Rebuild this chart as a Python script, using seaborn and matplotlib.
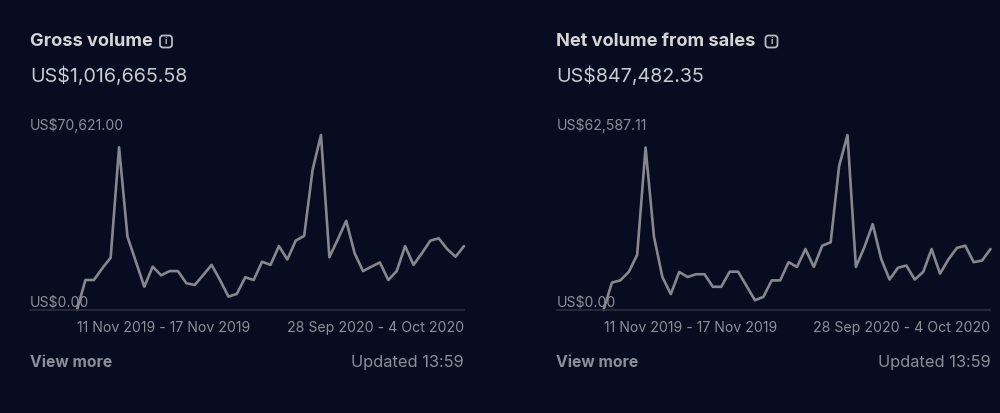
import matplotlib
matplotlib.use("Agg")
import matplotlib.pyplot as plt
from matplotlib.patches import FancyBboxPatch
import pandas as pd
import seaborn as sns

# values
gross_values = [0, 12100, 12100, 16800, 21100, 65650, 29600, 19500, 9400, 17500, 14000, 15700,
                15700, 10800, 10100, 14100, 18200, 12100, 5400, 6500, 13200, 12100, 19500, 18200,
                25800, 20400, 28000, 29900, 56500, 70621, 21300, 28500, 36000, 22900, 15700, 17500,
                19200, 12100, 15700, 25800, 18200, 22900, 28000, 28900, 24600, 21500, 25800]
net_values = [0, 9800, 10600, 13600, 19700, 58100, 26200, 11800, 5700, 13600, 11800, 12800,
              12800, 8300, 8300, 13700, 13700, 8600, 3500, 4700, 10600, 10600, 17100, 15400,
              21800, 15400, 23000, 24200, 51400, 62587, 15400, 22400, 30700, 18300, 10900, 15100,
              15900, 10900, 13600, 21800, 13000, 18100, 22200, 23000, 17100, 17700, 21800]
titles = ["Gross volume", "Net volume from sales"]
totals = ["US$1,016,665.58", "US$847,482.35"]
top_labels = ["US$70,621.00", "US$62,587.11"]
zero_label = "US$0.00"
date_labels = ["11 Nov 2019 - 17 Nov 2019", "28 Sep 2020 - 4 Oct 2020"]
more_label = "View more"
updated_label = "Updated 13:59"
icon_offsets = [136, 215]

BG = "#070c20"
LINE = "#87888d"
DIM = "#8c8f98"
BRIGHT = "#d6d6d6"
W, H = 1000, 413

sns.set_theme(style="dark", rc={"figure.facecolor": BG, "axes.facecolor": BG})
plt.rcParams["font.family"] = ["Inter", "DejaVu Sans"]

fig = plt.figure(figsize=(W / 100, H / 100), dpi=100)


def fx(px):
    return px / W


def fy(py):
    return 1 - py / H


def draw_panel(left, values, title, total, top_label, icon_dx):
    # left edge of baseline at left, first point 47px further in
    ax = fig.add_axes([fx(left), fy(310), fx(434), (310 - 135) / H])
    ax.patch.set_alpha(0)
    n = len(values) - 1
    df = pd.DataFrame({"week": range(len(values)), "amount": values})
    sns.lineplot(data=df, x="week", y="amount", ax=ax, color=LINE, linewidth=1.9, clip_on=False)
    ax.set_xlim(-n * 47 / 387, n)
    ax.set_ylim(0, max(values))
    ax.set_xlabel("")
    ax.set_ylabel("")
    ax.set_yticks([])
    sns.despine(ax=ax, left=True, top=True, right=True)
    ax.spines["bottom"].set_color("#2a2e40")
    ax.spines["bottom"].set_linewidth(1.2)

    ax.set_xticks([0, n], date_labels)
    ax.tick_params(axis="x", length=0, pad=8, labelsize=10.15, labelcolor=DIM)
    labs = ax.get_xticklabels()
    labs[0].set_ha("left")
    labs[1].set_ha("right")

    trans = ax.get_yaxis_transform()
    ax.annotate(top_label, (0, max(values)), xycoords=trans, xytext=(0, 1.3), textcoords="offset points",
                color=DIM, fontsize=10.1, ha="left", va="bottom")
    ax.annotate(zero_label, (0, 0), xycoords=trans, xytext=(0, 0.5), textcoords="offset points",
                color=DIM, fontsize=10.1, ha="left", va="bottom")

    fig.text(fx(left), fy(42), title, color=BRIGHT, fontsize=13.1, fontweight="bold", ha="left", va="center")
    fig.text(fx(left), fy(76.5), total, color="#c9cbd0", fontsize=14.2, ha="left", va="center")
    fig.text(fx(left), fy(362.5), more_label, color=DIM, fontsize=11.3, fontweight="bold", ha="left", va="center")
    fig.text(fx(left + 434), fy(362.5), updated_label, color=DIM, fontsize=11.8, ha="right", va="center")

    # little info icon next to the title
    ix = left + icon_dx
    box = FancyBboxPatch((fx(ix - 6), fy(47.5)), 12 / W, 12 / H, boxstyle="round,pad=0,rounding_size=0.003",
                         transform=fig.transFigure, fill=False, ec="#b9bbc0", lw=1.3, mutation_aspect=2.4)
    fig.add_artist(box)
    fig.text(fx(ix), fy(41.5), "i", color="#b9bbc0", fontsize=6.5, fontweight="bold", ha="center", va="center")


draw_panel(30, gross_values, titles[0], totals[0], top_labels[0], icon_offsets[0])
draw_panel(556.5, net_values, titles[1], totals[1], top_labels[1], icon_offsets[1])

fig.savefig("out.png", dpi=100, facecolor=BG)
